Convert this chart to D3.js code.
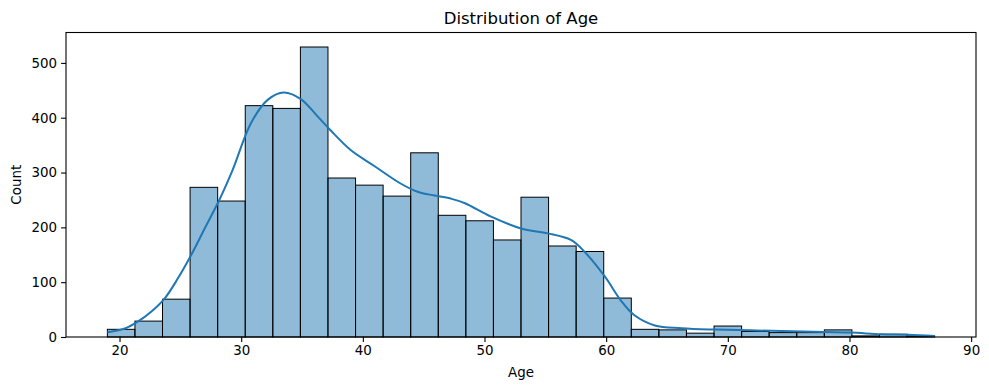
<!DOCTYPE html>
<html>
<head>
<meta charset="utf-8">
<script src="https://cdn.jsdelivr.net/npm/d3@7"></script>
<style>
  body { margin: 0; background: #fff; }
  svg { display: block; font-family: "DejaVu Sans", sans-serif; }
</style>
</head>
<body>
<svg width="989" height="390"></svg>
<script>
// histogram bins: 30 equal bins from the min to the max age
var ageMin = 19;
var ageMax = 87;
var binCount = 30;

// count in each bin
var counts = [14, 29, 69, 273, 248, 422, 417, 529, 290, 277,
  257, 336, 222, 212, 177, 255, 166, 156, 71, 14,
  13, 7, 20, 10, 8, 8, 13, 2, 5, 2];

// kde curve (age, count)
var kdeAge = [19.0, 20.5, 21.5, 22.6, 23.7, 24.8, 25.9, 27.0, 28.2, 29.3,
  30.8, 32.2, 33.5, 34.9, 36.3, 37.3, 39.0, 41.0, 43.1, 44.5,
  45.9, 47.3, 48.4, 50.5, 53.0, 55.2, 57.1, 58.2, 59.9, 61.2,
  62.3, 64.0, 66.2, 68.9, 74.4, 77.9, 80.1, 82.6, 84.8, 87.0];
var kdeCount = [8.5, 16, 28, 46, 70, 107, 150, 198, 250, 305,
  390, 433, 446, 434, 402, 378, 341, 311, 280, 265,
  258, 252, 244, 220, 198, 189, 177, 156, 110, 67,
  40, 21, 16, 13.5, 11, 9, 8, 5, 4, 2];

var xTicks = [20, 30, 40, 50, 60, 70, 80, 90];
var yTicks = [0, 100, 200, 300, 400, 500];

var svg = d3.select('svg');
var margin = { top: 32.5, right: 13, bottom: 53, left: 66 };
var width = 989 - margin.left - margin.right;
var height = 390 - margin.top - margin.bottom;

var g = svg.append('g')
  .attr('transform', 'translate(' + margin.left + ',' + margin.top + ')');

// matplotlib style 5% margins on x, 5% headroom on y
var pad = (ageMax - ageMin) * 0.05;
var x = d3.scaleLinear()
  .domain([ageMin - pad, ageMax + pad])
  .range([0, width]);
var y = d3.scaleLinear()
  .domain([0, d3.max(counts) * 1.05])
  .range([height, 0]);

var binWidth = (ageMax - ageMin) / binCount;

// bars
g.selectAll('rect.bar')
  .data(counts)
  .enter().append('rect')
  .attr('class', 'bar')
  .attr('x', function(d, i) { return x(ageMin + i * binWidth); })
  .attr('y', function(d) { return y(d); })
  .attr('width', function(d, i) { return x(ageMin + (i + 1) * binWidth) - x(ageMin + i * binWidth); })
  .attr('height', function(d) { return y(0) - y(d); })
  .attr('fill', '#1f77b4')
  .attr('fill-opacity', 0.5)
  .attr('stroke', '#000')
  .attr('stroke-width', 1);

// kde line
var line = d3.line()
  .x(function(d) { return x(d[0]); })
  .y(function(d) { return y(d[1]); })
  .curve(d3.curveCatmullRom.alpha(0.5));

g.append('path')
  .datum(d3.zip(kdeAge, kdeCount))
  .attr('d', line)
  .attr('fill', 'none')
  .attr('stroke', '#1f77b4')
  .attr('stroke-width', 2);

// axes
var xAxis = g.append('g')
  .attr('transform', 'translate(0,' + height + ')')
  .call(d3.axisBottom(x).tickValues(xTicks).tickSize(4.9).tickPadding(4));
var yAxis = g.append('g')
  .call(d3.axisLeft(y).tickValues(yTicks).tickSize(4.9).tickPadding(4));

[xAxis, yAxis].forEach(function(a) {
  a.select('.domain').remove();
  a.selectAll('text')
    .attr('font-size', '13.4px')
    .attr('font-family', '"DejaVu Sans", sans-serif')
    .attr('fill', '#000');
  a.selectAll('line').attr('stroke', '#000').attr('stroke-width', 1.1);
});

// frame
g.append('rect')
  .attr('x', 0)
  .attr('y', 0)
  .attr('width', width)
  .attr('height', height)
  .attr('fill', 'none')
  .attr('stroke', '#000')
  .attr('stroke-width', 1.1);

// labels
svg.append('text')
  .attr('x', margin.left + width / 2)
  .attr('y', 24)
  .attr('text-anchor', 'middle')
  .attr('font-size', '16.5px')
  .text('Distribution of Age');

svg.append('text')
  .attr('x', margin.left + width / 2)
  .attr('y', 377)
  .attr('text-anchor', 'middle')
  .attr('font-size', '13.4px')
  .text('Age');

svg.append('text')
  .attr('transform', 'translate(21,' + (margin.top + height / 2) + ') rotate(-90)')
  .attr('text-anchor', 'middle')
  .attr('font-size', '13.4px')
  .text('Count');
</script>
</body>
</html>
